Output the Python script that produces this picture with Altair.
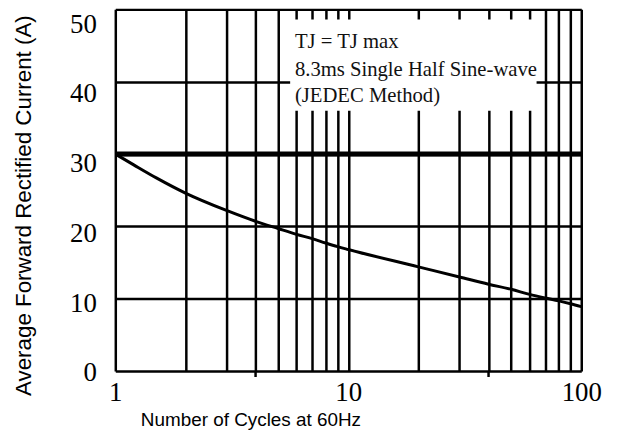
import altair as alt
import pandas as pd

# Curve: number of cycles vs. current (A)
cycles = [1, 1.2, 1.5, 2, 3, 4, 5, 6, 7, 8, 9, 10, 20, 30, 40, 50, 60, 70, 80, 90, 100]
current = [30, 28.5, 26.7, 24.6, 22.2, 20.7, 19.7, 18.9, 18.3, 17.7, 17.2, 16.8,
           14.4, 13.0, 12.0, 11.3, 10.6, 10.1, 9.7, 9.3, 8.9]

# Thick reference line
ref_level = [30]

# Grid values
x_grid = [1, 2, 3, 4, 5, 6, 7, 8, 9, 10, 20, 30, 40, 50, 60, 70, 80, 90, 100]
x_labels = [1, 10, 100]
y_grid = [0, 10, 20, 30, 40, 50]
x_ticks_below = [4, 40]

# Annotation box (data coords)
box_x = [5.63]
box_x2 = [64.3]
box_y = [36.0]
box_y2 = [48.6]
note_lines = ["TJ = TJ max", "8.3ms Single Half Sine-wave", "(JEDEC Method)"]
note_x = [5.9, 5.9, 5.9]
note_y = [44.6, 40.8, 37.2]

curve_df = pd.DataFrame({"n": cycles, "i": current})
ref_df = pd.DataFrame({"i": ref_level})
box_df = pd.DataFrame({"x": box_x, "x2": box_x2, "y": box_y, "y2": box_y2})
note_df = pd.DataFrame({"t": note_lines, "x": note_x, "y": note_y})
tick_df = pd.DataFrame({"n": x_ticks_below})

xscale = alt.Scale(type="log", domain=[1, 100])
yscale = alt.Scale(domain=[0, 50])

label_expr = "(datum.value == 1 || datum.value == 10 || datum.value == 100) ? datum.label : ''"

xaxis = alt.Axis(
    values=x_grid, labelExpr=label_expr, grid=True, gridColor="black", gridWidth=2.5,
    gridOpacity=1, domain=False, ticks=False, tickSize=0, labelFont="Liberation Serif",
    labelFontSize=27, labelColor="black", labelPadding=9, labelFlush=False,
    labelOverlap=False, title="Number of Cycles at 60Hz", titleFont="Liberation Sans",
    titleFontSize=19, titleFontWeight="normal", titleColor="black", titleX=136,
    titleY=49, titleAlign="center", titleBaseline="middle",
)
yaxis = alt.Axis(
    values=y_grid, grid=True, gridColor="black", gridWidth=2.5, gridOpacity=1,
    domain=False, ticks=False, tickSize=0, labelFont="Liberation Serif",
    labelFontSize=27, labelColor="black", labelPadding=19,
    labelOffset={"expr": "2 + datum.value * 0.26"},
    labelFlush=False, labelOverlap=False,
    title="Average Forward Rectified Current (A)", titleFont="Liberation Sans",
    titleFontSize=22.5, titleFontWeight="normal", titleColor="black", titleX=-92,
    titleY=197, titleAlign="center", titleBaseline="middle", titleAngle=270,
)


def X(field):
    return alt.X(field, type="quantitative", scale=xscale, axis=xaxis)


def Y(field):
    return alt.Y(field, type="quantitative", scale=yscale, axis=yaxis)


box = alt.Chart(box_df).mark_rect(color="white", opacity=1).encode(
    x=X("x"), x2="x2", y=Y("y"), y2="y2"
)

ref = alt.Chart(ref_df).mark_rule(color="black", strokeWidth=5).encode(y=Y("i"))

curve = alt.Chart(curve_df).mark_line(
    color="black", strokeWidth=3, interpolate="monotone", clip=True
).encode(x=X("n"), y=Y("i"))

notes = alt.Chart(note_df).mark_text(
    align="left", baseline="alphabetic", font="Liberation Serif", fontSize=20.8,
    color="#111111"
).encode(x=X("x"), y=Y("y"), text="t")

ticks = alt.Chart(tick_df).mark_rule(color="black", strokeWidth=2.5).encode(
    x=X("n"), y=alt.value(364), y2=alt.value(370)
)

chart = alt.layer(box, ref, curve, notes, ticks).properties(
    width=469, height=364,
    autosize=alt.AutoSizeParams(type="none"),
    padding={"left": 108, "top": 0, "right": 40, "bottom": 60},
).configure_view(stroke="black", strokeWidth=3).configure(background="white")

chart.save("out.html", embed_options={"renderer": "svg", "actions": False})
